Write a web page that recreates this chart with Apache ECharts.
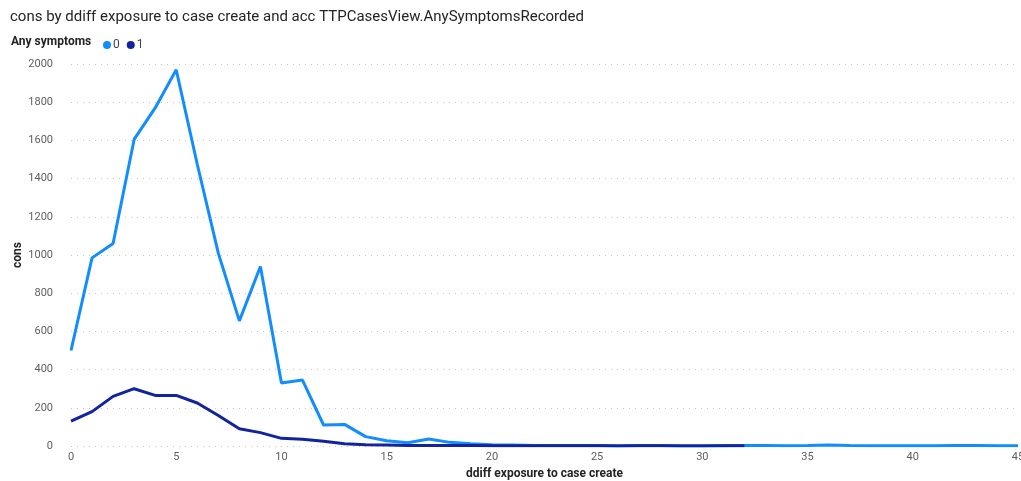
<!DOCTYPE html>
<html>
<head>
<meta charset="utf-8">
<script src="https://cdn.jsdelivr.net/npm/echarts@6/dist/echarts.min.js"></script>
<style>
html,body{margin:0;padding:0;background:#fff;}
#chart{width:1021px;height:481px;}
</style>
</head>
<body>
<div id="chart"></div>
<script>
var titleText = 'cons by ddiff exposure to case create and acc TTPCasesView.AnySymptomsRecorded';
var legendTitle = 'Any symptoms';
var seriesNames = ['0', '1'];
var xName = 'ddiff exposure to case create';
var yName = 'cons';
// x values (days)
var xs0 = [0,1,2,3,4,5,6,7,8,9,10,11,12,13,14,15,16,17,18,19,20,21,22,23,24,25,26,27,28,29,30,31,32,33,34,35,36,37,38,39,40,41,42,43,44,45];
var vals0 = [500,985,1060,1605,1770,1970,1475,1010,655,940,330,345,110,113,49,28,17,37,19,12,7,5,3,3,2,2,1,2,2,1,1,1,2,2,1,2,5,2,1,1,1,1,2,2,1,1];
var xs1 = [0,1,2,3,4,5,6,7,8,9,10,11,12,13,14,15,16,17,18,19,20,21,22,23,24,25,26,27,28,29,30,31,32];
var vals1 = [130,180,260,300,265,265,225,160,90,70,40,35,25,12,7,5,3,2,2,2,1,1,1,1,1,1,0,1,1,0,0,1,1];
var yTicks = [0,200,400,600,800,1000,1200,1400,1600,1800,2000];

function pairs(xs, vs){ return xs.map(function(x,i){ return [x, vs[i]]; }); }

var font = 'Roboto, "Noto Sans", sans-serif';
var chart = echarts.init(document.getElementById('chart'), null, {renderer:'canvas'});
chart.setOption({
  animation:false,
  color:['#118DFF','#12239E'],
  title:{
    text:titleText, left:5, top:5,
    textStyle:{fontFamily:font, fontSize:15, fontWeight:'normal', color:'#252423'}
  },
  graphic:[{
    type:'text', left:11, top:36,
    style:{text:legendTitle, fontFamily:font, fontSize:12, fontWeight:'bold', fill:'#252423'}
  }],
  legend:{
    left:98, top:34, itemWidth:8, itemHeight:8, itemGap:7, icon:'circle',
    textStyle:{fontFamily:font, fontSize:12, color:'#444444', padding:[0,0,0,-3]},
    data:seriesNames
  },
  grid:{left:71, right:3, top:64, bottom:35, containLabel:false, outerBoundsMode:'none'},
  xAxis:{
    type:'value', min:0, max:45, interval:5,
    name:xName, nameLocation:'middle', nameGap:22, nameMoveOverlap:false,
    nameTextStyle:{fontFamily:font, fontSize:12, fontWeight:'bold', color:'#252423'},
    axisLine:{show:false}, axisTick:{show:false}, splitLine:{show:false},
    axisLabel:{fontFamily:font, fontSize:11, color:'#605E5C', margin:6}
  },
  yAxis:{
    type:'value', min:yTicks[0], max:yTicks[yTicks.length-1], interval:200,
    name:yName, nameLocation:'middle', nameGap:47, nameMoveOverlap:false,
    nameTextStyle:{fontFamily:font, fontSize:12, fontWeight:'bold', color:'#252423'},
    axisLine:{show:false}, axisTick:{show:false},
    axisLabel:{fontFamily:font, fontSize:11, color:'#605E5C', margin:18,
      formatter:function(v){ return String(v); }},
    splitLine:{show:true, lineStyle:{color:'#C8C6C4', type:[1,5], width:1}}
  },
  series:[
    {name:seriesNames[0], type:'line', data:pairs(xs0, vals0), showSymbol:false, symbol:'none',
     lineStyle:{width:3, color:'#118DFF'}, z:2},
    {name:seriesNames[1], type:'line', data:pairs(xs1, vals1), showSymbol:false, symbol:'none',
     lineStyle:{width:3, color:'#12239E'}, z:3}
  ]
});
</script>
</body>
</html>
